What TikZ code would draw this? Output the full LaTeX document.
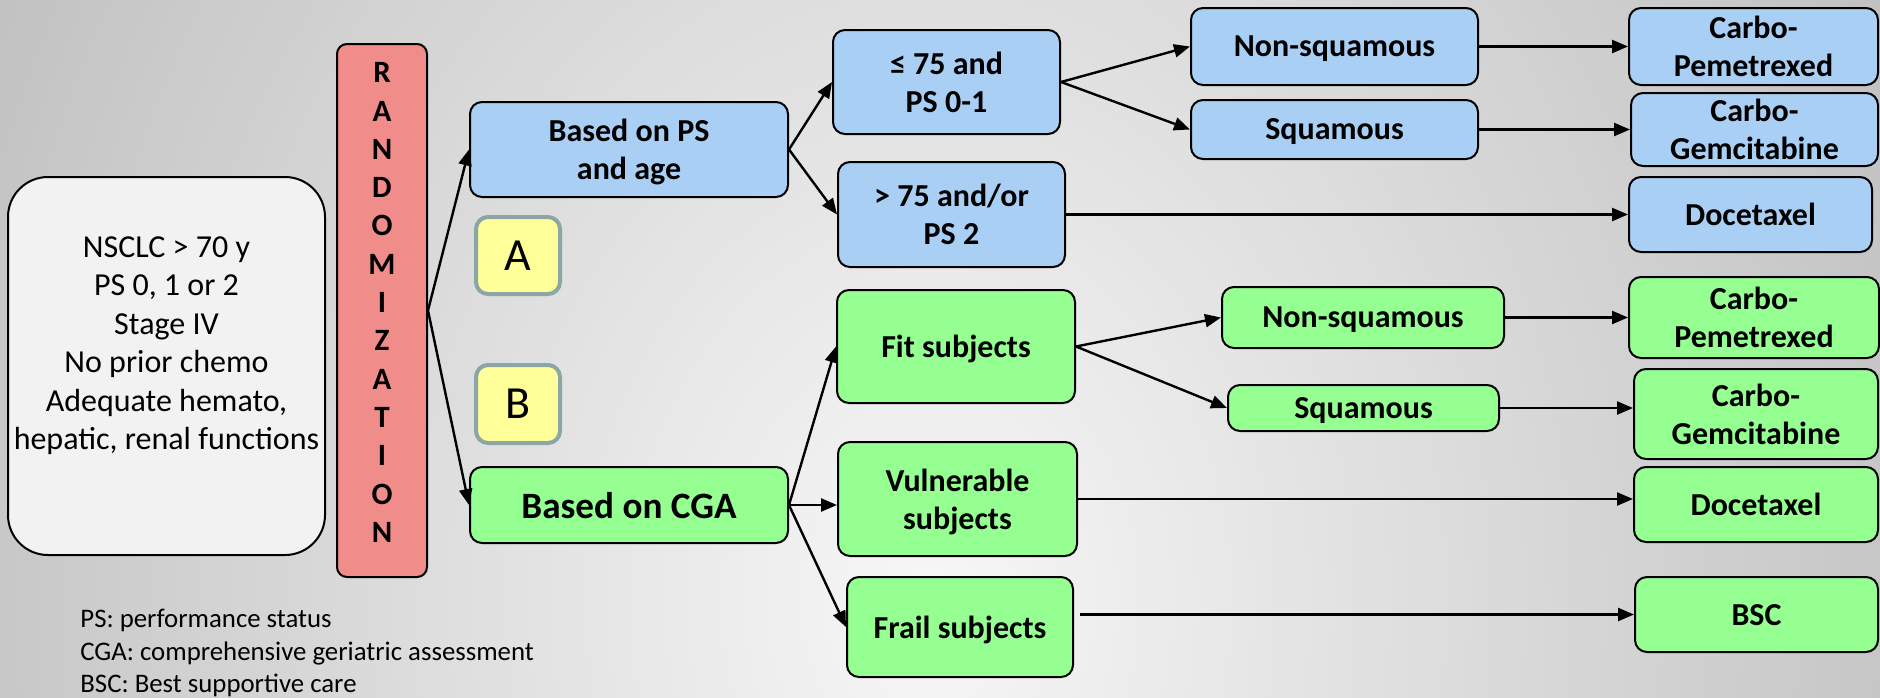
\documentclass[tikz,border=0pt]{standalone}
\usepackage{fontspec}
\setmainfont{Carlito}
\usetikzlibrary{arrows.meta,positioning,calc}
\definecolor{armblue}{RGB}{170,207,244}
\definecolor{armgreen}{RGB}{150,255,145}
\definecolor{randred}{RGB}{240,140,138}
\definecolor{infogray}{RGB}{242,242,242}
\definecolor{tagyellow}{RGB}{255,255,153}
\definecolor{tagrim}{RGB}{140,165,165}
\definecolor{bgdark}{RGB}{150,150,150}
\definecolor{bglight}{RGB}{247,247,247}

\tikzset{
    box/.style={rectangle, draw=black, line width=1pt, rounded corners=6pt,
                align=center, inner sep=0pt, text depth=0pt,
                font=\fontsize{16}{19}\selectfont\bfseries},
    bluebox/.style={box, fill=armblue},
    greenbox/.style={box, fill=armgreen},
    infobox/.style={rectangle, draw=black, line width=1pt, rounded corners=20pt,
                fill=infogray, align=center, inner sep=0pt,
                font=\fontsize{16}{19.25}\selectfont},
    randbox/.style={rectangle, draw=black, line width=1pt, rounded corners=5pt,
                fill=randred, align=center, inner sep=0pt,
                font=\fontsize{15.5}{19.15}\selectfont\bfseries},
    tag/.style={rectangle, draw=tagrim, line width=2pt, rounded corners=6pt,
                fill=tagyellow, inner sep=0pt,
                font=\fontsize{23}{27}\selectfont},
    arr/.style={-{Triangle[length=8pt,width=6.5pt]}, line width=1.2pt},
}

\begin{document}
\begin{tikzpicture}[x=0.5pt,y=-0.5pt]
    % background
    \useasboundingbox (0,0) rectangle (1880,697);
    \begin{scope}
        \clip (0,0) rectangle (1880,697);
        \shade[inner color=bglight, outer color=bgdark] (930,600) ellipse (1900 and 2400);
    \end{scope}

    % patients and randomization
    \node[infobox, minimum width=158.5pt, minimum height=189pt, text depth=23pt] (patients) at (166.5,366) {
        NSCLC > 70 y\\
        PS 0, 1 or 2\\
        Stage IV\\
        No prior chemo\\
        Adequate hemato,\\
        hepatic, renal functions};
    \node[randbox, minimum width=45pt, minimum height=266.5pt, text depth=8pt] (rand) at (382,310.5)
        {R\\A\\N\\D\\O\\M\\I\\Z\\A\\T\\I\\O\\N};

    % arms
    \node[bluebox, minimum width=159pt, minimum height=47.5pt] (psage) at (629,149.5) {Based on PS\\and age};
    \node[tag, minimum width=42pt, minimum height=38.5pt] (tagA) at (518,255.5) {A};
    \node[tag, minimum width=42pt, minimum height=39pt] (tagB) at (518,404) {B};
    \node[greenbox, minimum width=159pt, minimum height=38pt, font=\fontsize{18.6}{22}\selectfont\bfseries] (cga) at (629,505) {Based on CGA};

    % arm A
    \node[bluebox, minimum width=113.5pt, minimum height=52pt] (young) at (946.5,82) {≤ 75 and\\PS 0-1};
    \node[bluebox, minimum width=113.5pt, minimum height=52.5pt] (old) at (951.5,214.5) {> 75 and/or\\PS 2};
    \node[bluebox, minimum width=143.5pt, minimum height=38.5pt] (nsqA) at (1334.5,46.5) {Non-squamous};
    \node[bluebox, minimum width=143.5pt, minimum height=29.5pt] (sqA) at (1334.5,129.5) {Squamous};
    \node[bluebox, minimum width=124.5pt, minimum height=38.5pt] (pemA) at (1753.5,46.5) {Carbo-\\Pemetrexed};
    \node[bluebox, minimum width=123.5pt, minimum height=36.5pt] (gemA) at (1754.5,129.5) {Carbo-\\Gemcitabine};
    \node[bluebox, minimum width=121.5pt, minimum height=37.5pt] (docA) at (1750.5,214.5) {Docetaxel};

    % arm B
    \node[greenbox, minimum width=119pt, minimum height=56.5pt] (fit) at (956,346.5) {Fit subjects};
    \node[greenbox, minimum width=119.5pt, minimum height=57pt] (vuln) at (957.5,499) {Vulnerable\\subjects};
    \node[greenbox, minimum width=113pt, minimum height=50pt] (frail) at (960,627) {Frail subjects};
    \node[greenbox, minimum width=141pt, minimum height=30.5pt] (nsqB) at (1363,317.5) {Non-squamous};
    \node[greenbox, minimum width=135.5pt, minimum height=23pt] (sqB) at (1363.5,408) {Squamous};
    \node[greenbox, minimum width=125pt, minimum height=40.5pt] (pemB) at (1754,317.5) {Carbo-\\Pemetrexed};
    \node[greenbox, minimum width=122pt, minimum height=45pt] (gemB) at (1756,414) {Carbo-\\Gemcitabine};
    \node[greenbox, minimum width=122pt, minimum height=37.5pt] (docB) at (1756,504.5) {Docetaxel};
    \node[greenbox, minimum width=121.5pt, minimum height=37.5pt] (bsc) at (1756.5,614.5) {BSC};

    % abbreviations
    \node[anchor=north west, align=left, inner sep=0pt, font=\fontsize{13.4}{16.2}\selectfont] (legend) at (80,609) {
        PS: performance status\\
        CGA: comprehensive geriatric assessment\\
        BSC: Best supportive care};

    % connectors
    \draw[arr] (rand.east) -- (psage.west);
    \draw[arr] (rand.east) -- (cga.west);
    \draw[arr] (psage.east) -- (young.west);
    \draw[arr] (psage.east) -- (old.west);
    \draw[arr] (young.east) -- (nsqA.west);
    \draw[arr] (young.east) -- (sqA.west);
    \draw[arr] (nsqA.east) -- (pemA.west);
    \draw[arr] (sqA.east) -- (gemA.west);
    \draw[arr] (old.east) -- (docA.west);
    \draw[arr] (cga.east) -- (fit.west);
    \draw[arr] (cga.east) -- (cga.east -| vuln.west);
    \draw[arr] (cga.east) -- (frail.west);
    \draw[arr] (fit.east) -- (nsqB.west);
    \draw[arr] (fit.east) -- (sqB.west);
    \draw[arr] (nsqB.east) -- (pemB.west);
    \draw[arr] (sqB.east) -- (sqB.east -| gemB.west);
    \draw[arr] (vuln.east) -- (vuln.east -| docB.west);
    \draw[arr, shorten <=3pt] (frail.east |- bsc.west) -- (bsc.west);
\end{tikzpicture}
\end{document}
